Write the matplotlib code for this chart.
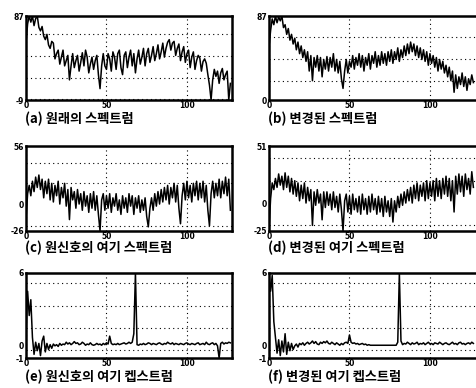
import numpy as np
import matplotlib.pyplot as plt

plt.rcParams['axes.unicode_minus'] = False

# --- dati (indice campione 0..127) ---
spec_a = [56, 78, 87, 80, 87, 76, 84, 87, 74, 70, 75, 64, 60, 66, 54, 50, 58, 56, 38, 44,
          48, 32, 40, 48, 30, 36, 42, 14, 30, 44, 28, 36, 42, 24, 34, 45, 30, 48, 40, 22,
          32, 40, 26, 36, 42, 20, 4, 30, 44, 30, 26, 44, 38, 24, 46, 40, 26, 44, 48, 28,
          20, 42, 46, 28, 40, 48, 30, 44, 22, 38, 48, 32, 40, 50, 30, 44, 50, 34, 42, 52,
          36, 44, 54, 38, 46, 56, 40, 50, 57, 60, 48, 56, 58, 42, 50, 55, 36, 46, 52, 34,
          44, 48, 28, 40, 46, 26, 36, 42, 39, 24, 35, 38, 33, 20, 8, -9, 14, 26, 18, 24,
          10, 22, 27, 14, 20, 24, -9, 10]

spec_b = [55, 72, 84, 78, 87, 80, 86, 82, 87, 75, 78, 68, 74, 62, 68, 58, 64, 52, 60, 48,
          56, 44, 52, 40, 50, 30, 46, 20, 44, 34, 46, 30, 44, 24, 42, 32, 45, 30, 44, 34,
          48, 30, 42, 28, 40, 22, 12, 30, 42, 28, 40, 34, 46, 32, 44, 36, 48, 34, 46, 30,
          44, 36, 48, 32, 46, 38, 50, 34, 46, 36, 50, 38, 48, 36, 50, 40, 52, 38, 50, 42,
          54, 40, 52, 44, 56, 46, 58, 48, 60, 50, 58, 46, 56, 44, 54, 42, 52, 40, 50, 36,
          48, 38, 46, 34, 44, 30, 42, 32, 40, 28, 36, 24, 34, 20, 30, 8, 26, 12, 24, 16,
          28, 14, 24, 10, 22, 16, 26, 18]

exc_c = [-14, 10, 18, 8, 22, 12, 26, 16, 28, 14, 24, 6, 22, 10, 24, 4, 20, 2, 18, 8,
         22, 0, 16, 6, 20, -2, 14, -15, 16, 4, 12, -4, 14, 0, 10, -6, 12, -2, 8, -8,
         10, -4, 12, -6, 8, -10, -26, 4, 10, -6, 8, -4, 10, -8, 6, -2, 10, -6, 4, -10,
         8, -4, 6, -8, 10, -2, 8, -10, 6, -4, 8, -8, 4, -6, 6, -12, -22, -4, 6, -6,
         10, -2, 12, 0, 14, 2, 16, 4, 18, 0, 16, 6, 20, 2, 18, -4, -19, 8, 20, 4,
         22, 6, 18, 2, 20, 8, 22, 4, 20, 6, 22, 2, 18, -6, -21, 10, 22, 6, 20, 8,
         24, 6, 22, 10, 26, 8, 24, -6]

exc_d = [-23, 4, 18, 12, 22, 14, 26, 16, 24, 12, 27, 14, 24, 10, 22, 8, 20, 6, 18, 2,
         16, 4, 18, 0, 14, 2, 12, -20, 10, -2, 12, 0, 8, -15, 10, -4, 10, -2, 8, -6,
         10, -4, 6, -8, 8, -6, -25, 2, 8, -8, 6, -10, 8, -6, 4, -8, 6, -10, 8, -6,
         4, -10, 6, -8, 8, -6, 4, -10, 6, -8, 4, -12, 6, -8, 2, -12, 4, -17, 2, -8,
         6, -4, 8, -2, 10, 0, 12, 2, 14, 0, 16, 4, 18, 2, 16, 6, 18, 2, 20, 4,
         18, 6, 20, 2, 22, 6, 20, 4, 22, 8, 24, 6, 22, 2, 20, -8, 24, 8, 26, 10,
         24, 6, 26, 12, 22, 8, 28, 14]

cep_e = [1.0, 4.5, 2.5, 3.8, 0.7, -0.7, 0.3, -0.4, 0.2, -0.8, 0.4, 0.8, -0.5, 0.2, -0.3, 0.1,
         -0.2, 0.15, 0.0, 0.1, -0.05, 0.2, 0.05, 0.15, 0.1, 0.3, 0.15, 0.25, 0.1, 0.2, 0.35, 0.2,
         0.25, 0.1, 0.15, 0.3, 0.2, 0.05, 0.15, 0.1, 0.25, 0.1, 0.05, 0.1, 0.2, 0.1, 0.15, 0.05,
         0.2, 0.1, 0.25, 0.15, 0.8, 0.2, 0.1, 0.15, 0.1, 0.2, 0.1, 0.15, 0.2, 0.25, 0.15, 0.2,
         0.3, 0.2, 0.3, 1.0, 6.0, 0.1, 0.05, 0.15, 0.1, 0.2, 0.1, 0.15, 0.25, 0.2, 0.1, 0.2,
         0.15, 0.1, 0.2, 0.25, 0.15, 0.1, 0.2, 0.15, 0.3, 0.2, 0.15, 0.25, 0.1, 0.2, 0.15, 0.1,
         0.2, 0.15, 0.1, 0.2, 0.25, 0.15, 0.1, 0.2, 0.15, 0.1, 0.2, 0.25, 0.1, 0.15, 0.2, 0.1,
         0.3, 0.15, 0.1, 0.2, 0.25, 0.1, 0.2, 0.0, -1.0, 0.2, 0.3, 0.15, 0.25, 0.2, 0.3, 0.25]

cep_f = [6.0, 4.5, 5.8, 2.0, 0.7, -0.6, 0.5, -0.8, 0.4, -0.5, 1.0, -0.7, 0.3, -0.4, 0.2, -0.3,
         0.0, 0.15, -0.1, 0.2, 0.1, 0.25, 0.05, 0.2, 0.3, 0.15, 0.25, 0.4, 0.2, 0.35, 0.15, 0.1,
         0.3, 0.2, 0.35, 0.25, 0.4, 0.2, 0.15, 0.3, 0.2, 0.1, 0.25, 0.15, 0.05, 0.2, 0.1, 0.25,
         0.3, 0.2, 0.9, 0.3, 0.2, 0.25, 0.15, 0.2, 0.1, 0.15, 0.2, 0.1, 0.15, 0.05, 0.1, 0.05,
         0.05, 0.05, 0.05, 0.05, 0.05, 0.05, 0.05, 0.05, 0.05, 0.05, 0.05, 0.05, 0.05, 0.05, 0.05, 0.05,
         0.3, 6.0, 0.4, 0.1, 0.2, 0.15, 0.3, 0.2, 0.1, 0.25, 0.15, 0.2, 0.3, 0.1, 0.2, 0.15,
         0.25, 0.1, 0.2, 0.3, 0.15, 0.2, 0.1, 0.25, 0.2, 0.15, 0.3, 0.2, 0.1, 0.2, 0.25, 0.15,
         0.1, 0.2, 0.3, 0.15, 0.2, 0.1, 0.25, 0.3, 0.15, 0.2, 0.1, 0.2, 0.25, 0.15, 0.3, 0.2]

captions = ["(a) 원래의 스펙트럼", "(b) 변경된 스펙트럼",
            "(c) 원신호의 여기 스펙트럼", "(d) 변경된 여기 스펙트럼",
            "(e) 원신호의 여기 켑스트럼", "(f) 변경된 여기 켑스트럼"]
series = [spec_a, spec_b, exc_c, exc_d, cep_e, cep_f]
ylims = [(-9, 87), (0, 87), (-26, 56), (-25, 51), (-1, 6), (-1, 6)]
ytick_vals = [[-9, 87], [0, 87], [-26, 0, 56], [-25, 0, 51], [-1, 0, 6], [-1, 0, 6]]
ygrid_vals = [[-8, 16, 41, 67], [20, 42, 65], [-21, 0, 20, 40], [-20, 0, 20, 40],
              [-0.35, 1.5, 3.3, 5.15], [-0.35, 1.5, 3.3, 5.15]]
xtick_vals = [0, 50, 100]


def main():
    W, H = 476, 388
    fig = plt.figure(figsize=(W / 100, H / 100), dpi=100)

    # posizioni in pixel (top, bottom) e (left, right)
    rows = [(16, 100), (146, 231), (273, 358)]
    cols = [(26, 232), (269, 477)]
    cap_y = [119, 247.5, 376.5]

    for i, y in enumerate(series):
        r, c = divmod(i, 2)
        top, bot = rows[r]
        left, right = cols[c]
        ax = fig.add_axes([left / W, 1 - bot / H, (right - left) / W, (bot - top) / H])
        x = np.arange(len(y))
        ax.plot(x, y, color='black', lw=1.1)
        ax.set_xlim(0, 128 * (right - left) / 206)
        ax.set_ylim(*ylims[i])

        ax.set_xticks(xtick_vals)
        ax.set_xticklabels([str(v) for v in xtick_vals])
        ax.set_yticks(ytick_vals[i])
        ax.set_yticklabels([str(v) for v in ytick_vals[i]])
        ax.set_yticks(ygrid_vals[i], minor=True)
        ax.tick_params(which='both', length=0, labelsize=5.5)
        ax.tick_params(axis='x', pad=0.5)
        ax.tick_params(axis='y', pad=1.5)
        for t in ax.get_xticklabels() + ax.get_yticklabels():
            t.set_fontweight('bold')

        ax.grid(True, axis='x', which='major', color='black', lw=0.8, ls=(0, (1, 3)))
        ax.grid(True, axis='y', which='minor', color='black', lw=0.8, ls=(0, (1, 3)))
        for s in ax.spines.values():
            s.set_linewidth(1.8)

        fig.text((left - 1) / W, 1 - cap_y[r] / H, captions[i], fontsize=9.5,
                 fontweight='bold', family=['Noto Sans CJK KR', 'DejaVu Sans'],
                 va='center', ha='left')

    fig.savefig('out.png', dpi=100)


if __name__ == "__main__":
    main()
